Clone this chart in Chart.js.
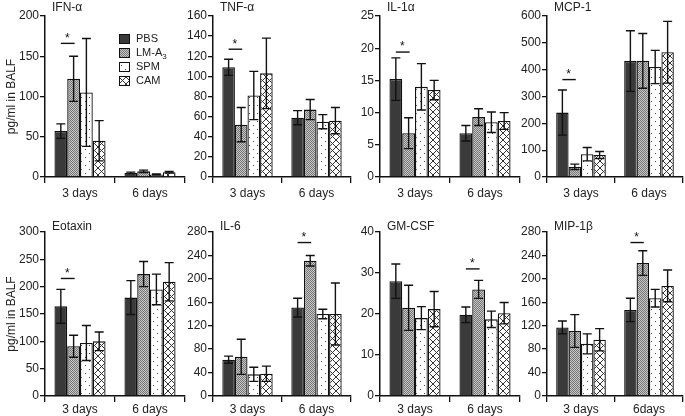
<!DOCTYPE html>
<html>
<head>
<meta charset="utf-8">
<script src="https://cdn.jsdelivr.net/npm/chart.js@4.4.0/dist/chart.umd.min.js"></script>
<style>
  body { margin: 0; background: #fff; }
  #wrap { position: relative; width: 685px; height: 416px; overflow: hidden; }
  #wrap canvas { position: absolute; }
</style>
</head>
<body>
<div id="wrap"></div>
<script>
// groups and days
const groups = ["PBS", "LM-A3", "SPM", "CAM"];
const days = ["3 days", "6 days"];
const daysLast = ["3 days", "6days"];

const titles = ["IFN-α", "TNF-α", "IL-1α", "MCP-1", "Eotaxin", "IL-6", "GM-CSF", "MIP-1β"];
const yMax = [200, 160, 25, 600, 300, 280, 40, 280];
const yStep = [50, 20, 5, 100, 50, 40, 10, 40];

// means / errors, one row per group: [3 days, 6 days]
const ifnMean = [[57, 5], [122, 7], [105, 3], [45, 6]];
const ifnErr = [[9, 1], [28, 1.5], [67, 0.7], [25, 1]];
const tnfMean = [[109, 59], [52, 67], [81, 55], [103, 56]];
const tnfErr = [[8, 7], [17, 10], [24, 7], [35, 13]];
const il1Mean = [[15.2, 6.8], [6.8, 9.3], [14, 8.5], [13.5, 8.7]];
const il1Err = [[3.3, 1.2], [2.4, 1.3], [3.6, 1.6], [1.5, 1.3]];
const mcpMean = [[240, 432], [38, 433], [85, 410], [82, 465]];
const mcpErr = [[84, 113], [10, 102], [25, 62], [13, 115]];
const eotMean = [[164, 180], [91, 223], [97, 195], [100, 209]];
const eotErr = [[31, 31], [20, 23], [32, 28], [17, 35]];
const il6Mean = [[62, 151], [67, 231], [37, 140], [38, 140]];
const il6Err = [[6, 16], [30, 9], [12, 8], [13, 53]];
const gmMean = [[28, 19.8], [21.5, 26], [19, 18.7], [21.2, 20.2]];
const gmErr = [[4.2, 1.9], [5.5, 2.2], [2.8, 2], [4.3, 2.6]];
const mipMean = [[117, 147], [111, 227], [89, 167], [96, 188]];
const mipErr = [[11, 20], [28, 21], [17, 15], [19, 27]];

const means = [ifnMean, tnfMean, il1Mean, mcpMean, eotMean, il6Mean, gmMean, mipMean];
const errs = [ifnErr, tnfErr, il1Err, mcpErr, eotErr, il6Err, gmErr, mipErr];

// significance bar: which day, and at what value
const sigDay = [0, 0, 0, 0, 0, 1, 1, 1];
const sigLevel = [166, 127, 19.4, 363, 215, 262, 31, 262];

// layout (pixels)
const axisLeft = [45, 213, 380, 547];
const plotW = [140, 138, 140, 136];
const rowTop = [16, 232];
const rowBottom = [177, 396];
const titleY = [8, 227];
const labelPad = [3, 0];
const PAD_TOP = 16, AXIS_W = 45, AXIS_H = 30;

const FONT = "'Liberation Sans', Arial, sans-serif";

function tile(w, h, draw) {
  const c = document.createElement("canvas");
  c.width = w; c.height = h;
  draw(c.getContext("2d"));
  return c;
}

function makeFills(ctx) {
  const lm = tile(2, 2, g => {
    g.fillStyle = "#c6c6c6"; g.fillRect(0, 0, 2, 2);
    g.fillStyle = "#777"; g.fillRect(0, 0, 1, 1); g.fillRect(1, 1, 1, 1);
  });
  const spm = tile(8, 8, g => {
    g.fillStyle = "#fff"; g.fillRect(0, 0, 8, 8);
    g.fillStyle = "#444"; g.fillRect(1, 1, 1, 1); g.fillRect(5, 5, 1, 1);
  });
  const cam = tile(7, 7, g => {
    g.fillStyle = "#fff"; g.fillRect(0, 0, 7, 7);
    g.strokeStyle = "#333"; g.lineWidth = 1;
    g.beginPath();
    g.moveTo(0, 0); g.lineTo(7, 7);
    g.moveTo(7, 0); g.lineTo(0, 7);
    g.stroke();
  });
  return ["#3a3a3a", ctx.createPattern(lm, "repeat"), ctx.createPattern(spm, "repeat"), ctx.createPattern(cam, "repeat")];
}

const deco = {
  id: "deco",
  afterDatasetsDraw(chart, args, opts) {
    const { ctx, chartArea } = chart;
    const y = chart.scales.y;
    ctx.save();
    ctx.strokeStyle = "#111";
    ctx.lineWidth = 1.4;
    // error bars
    chart.data.datasets.forEach((ds, i) => {
      chart.getDatasetMeta(i).data.forEach((bar, j) => {
        const m = ds.data[j], e = ds.err[j];
        const top = y.getPixelForValue(m + e);
        const bot = y.getPixelForValue(Math.max(m - e, 0));
        const cap = 4.5;
        ctx.beginPath();
        ctx.moveTo(bar.x, top); ctx.lineTo(bar.x, bot);
        ctx.moveTo(bar.x - cap, top); ctx.lineTo(bar.x + cap, top);
        ctx.moveTo(bar.x - cap, bot); ctx.lineTo(bar.x + cap, bot);
        ctx.stroke();
      });
    });
    // significance
    const x0 = chart.getDatasetMeta(0).data[opts.sigDay].x;
    const x1 = chart.getDatasetMeta(1).data[opts.sigDay].x;
    const sy = y.getPixelForValue(opts.sigLevel);
    ctx.beginPath();
    ctx.moveTo(x0, sy); ctx.lineTo(x1 + 1, sy);
    ctx.stroke();
    ctx.fillStyle = "#111";
    ctx.font = "12px " + FONT;
    ctx.textAlign = "center";
    ctx.textBaseline = "middle";
    ctx.fillText("*", (x0 + x1) / 2, sy - 5);
    // panel title
    ctx.textAlign = "left";
    ctx.font = "12px " + FONT;
    ctx.fillStyle = "#222";
    ctx.fillText(opts.title, chartArea.left + 7, opts.titleY);
    // legend
    if (opts.legend) {
      const fills = chart.data.datasets.map(d => d.backgroundColor);
      ctx.font = "11px " + FONT;
      ctx.lineWidth = 1;
      groups.forEach((g, k) => {
        const ry = chartArea.top + 23 + k * 14;
        const bx = chartArea.left + 74;
        ctx.fillStyle = fills[k];
        ctx.fillRect(bx, ry - 5, 11, 10);
        ctx.strokeRect(bx + 0.5, ry - 4.5, 10, 9);
        ctx.fillStyle = "#222";
        if (g === "LM-A3") {
          ctx.fillText("LM-A", bx + 17, ry);
          const w = ctx.measureText("LM-A").width;
          ctx.font = "8px " + FONT;
          ctx.fillText("3", bx + 17 + w, ry + 4);
          ctx.font = "11px " + FONT;
        } else {
          ctx.fillText(g, bx + 17, ry);
        }
      });
    }
    ctx.restore();
  }
};

const wrap = document.getElementById("wrap");

for (let p = 0; p < 8; p++) {
  const row = p >> 2, col = p % 4;
  const w = AXIS_W + plotW[col] + 2;
  const h = PAD_TOP + (rowBottom[row] - rowTop[row]) + AXIS_H;
  const canvas = document.createElement("canvas");
  canvas.width = w; canvas.height = h;
  canvas.style.left = (axisLeft[col] - AXIS_W) + "px";
  canvas.style.top = (rowTop[row] - PAD_TOP) + "px";
  wrap.appendChild(canvas);
  const ctx = canvas.getContext("2d");
  const fills = makeFills(ctx);

  const datasets = groups.map((g, k) => ({
    label: g,
    data: means[p][k],
    err: errs[p][k],
    backgroundColor: fills[k],
    borderColor: "#111",
    borderWidth: 1.3,
    barPercentage: 1,
    categoryPercentage: 0.73
  }));

  new Chart(ctx, {
    type: "bar",
    data: { labels: p === 7 ? daysLast : days, datasets },
    options: {
      responsive: false,
      animation: false,
      devicePixelRatio: 1,
      layout: { padding: { top: PAD_TOP, right: 2, left: 0, bottom: 0 } },
      plugins: {
        legend: { display: false },
        tooltip: { enabled: false },
        deco: {
          title: titles[p],
          titleY: titleY[row] - (rowTop[row] - PAD_TOP),
          sigDay: sigDay[p],
          sigLevel: sigLevel[p],
          legend: p === 0
        }
      },
      scales: {
        x: {
          offset: true,
          grid: { offset: true, drawOnChartArea: false, drawTicks: true, tickLength: 6, color: "#111", lineWidth: 1.3 },
          border: { display: true, color: "#111", width: 1.5 },
          ticks: { color: "#222", padding: labelPad[row], font: { family: FONT, size: 12 } },
          afterFit: s => { s.height = AXIS_H; }
        },
        y: {
          min: 0,
          max: yMax[p],
          grid: { drawOnChartArea: false, drawTicks: true, tickLength: 5, color: "#111", lineWidth: 1.3 },
          border: { display: true, color: "#111", width: 1.5 },
          ticks: { stepSize: yStep[p], color: "#222", padding: 1, font: { family: FONT, size: 12 } },
          title: {
            display: col === 0,
            text: "pg/ml in BALF",
            color: "#222",
            font: { family: FONT, size: 12 }
          },
          afterFit: s => { s.width = AXIS_W; }
        }
      }
    },
    plugins: [deco]
  });
}
</script>
</body>
</html>
